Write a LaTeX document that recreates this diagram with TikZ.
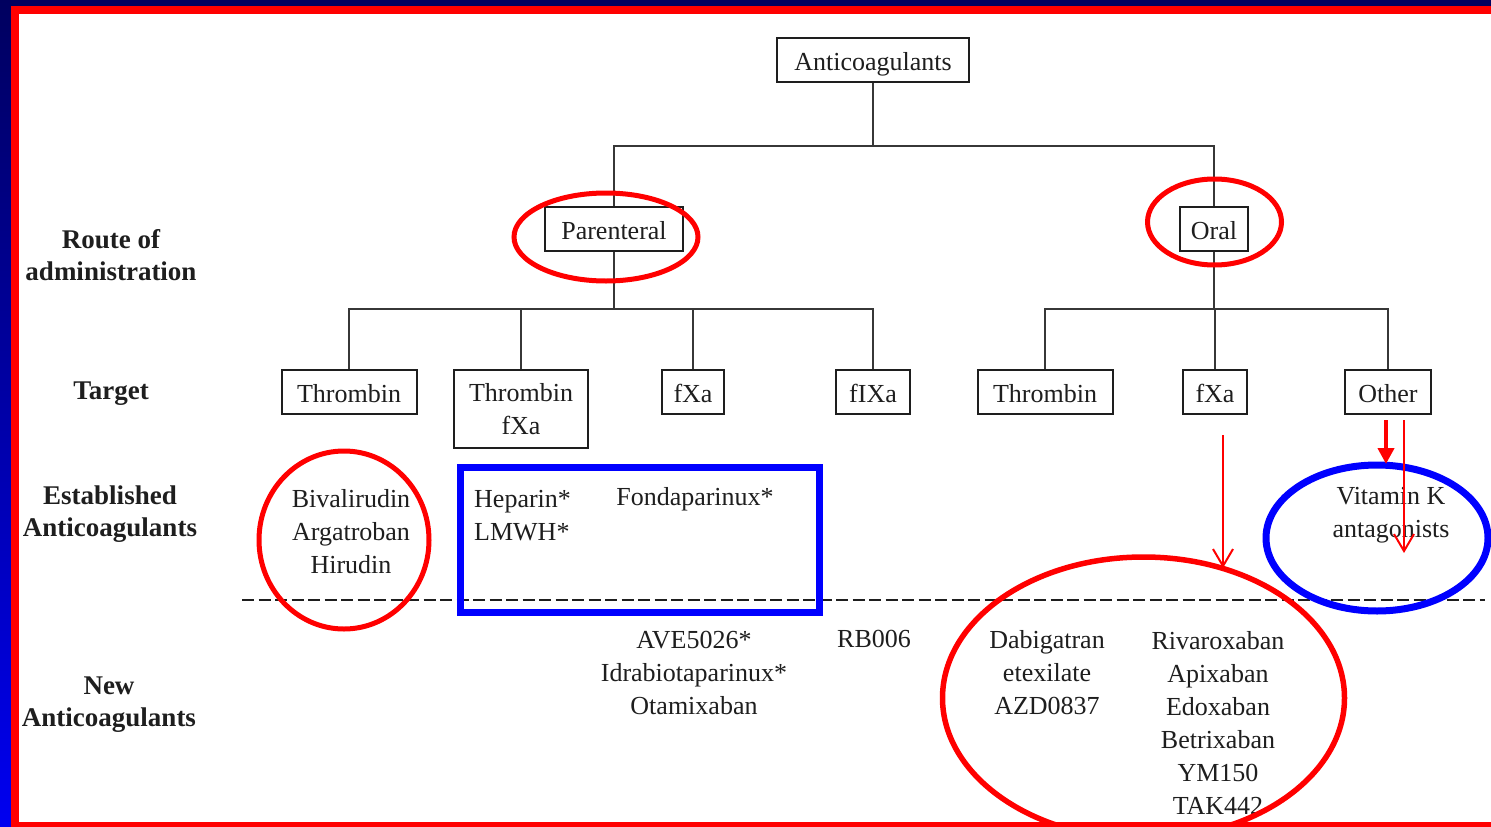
\documentclass[tikz,border=0pt]{standalone}
\usepackage{fontspec}
\setmainfont{Liberation Serif}
\usetikzlibrary{arrows.meta}
\definecolor{navyA}{RGB}{0,0,95}
\definecolor{navyB}{RGB}{0,0,240}
\definecolor{ink}{RGB}{30,30,30}
\definecolor{treeline}{RGB}{55,55,55}
\definecolor{markred}{RGB}{255,0,0}
\definecolor{markblue}{RGB}{0,0,255}
\begin{document}
\begin{tikzpicture}[x=1pt,y=-1pt,
  font=\fontsize{26}{33}\selectfont,
  box/.style={draw=ink, line width=2pt, minimum height=44pt, inner sep=0pt, text=ink, align=center},
  onebox/.style={box, text height=22.5pt, text depth=1.5pt},
  lbl/.style={font=\fontsize{27}{32}\selectfont\bfseries, text=ink, align=center, inner sep=0pt},
  drug/.style={text=ink, align=center, inner sep=0pt},
  tree/.style={draw=treeline, line width=1.6pt},
  redring/.style={draw=markred, line width=5pt},
  bluering/.style={draw=markblue, line width=7pt}]
\useasboundingbox (0,0) rectangle (1491,827);
% frame
\fill[white] (0,0) rectangle (1491,827);
\fill[navyA] (0,0) rectangle (1491,6);
\shade[top color=navyA, bottom color=navyB] (0,0) rectangle (11,827);
\fill[markred] (11,6) rectangle (1491,14);
\fill[markred] (11,6) rectangle (19,827);
\fill[markred] (11,822) rectangle (1491,827);

% row labels
\node[lbl] (lroute) at (111,255) {Route of\\administration};
\node[lbl] (ltarget) at (111,394) {Target};
\node[lbl] (lest) at (110,514) {Established\\Anticoagulants};
\node[lbl] (lnew) at (109,705) {New\\Anticoagulants};

% tree
\node[onebox, minimum width=192pt] (anti) at (873,60) {Anticoagulants};
\node[onebox, minimum width=138pt] (par) at (614,229) {Parenteral};
\node[onebox, minimum width=68pt] (oral) at (1214,229) {Oral};

\node[onebox, minimum width=135pt] (t1) at (349,392) {Thrombin};
\node[box, minimum width=134pt, minimum height=78pt] (t2) at (521,409) {Thrombin\\fXa};
\node[onebox, minimum width=62pt] (t3) at (693,392) {fXa};
\node[onebox, minimum width=74pt] (t4) at (873,392) {fIXa};
\node[onebox, minimum width=135pt] (o1) at (1045,392) {Thrombin};
\node[onebox, minimum width=64pt] (o2) at (1215,392) {fXa};
\node[onebox, minimum width=86pt] (o3) at (1388,392) {Other};

\coordinate (j1) at (873,146);
\coordinate (j2) at (614,309);
\coordinate (j3) at (1214,309);

\draw[tree] (anti.south) -- (j1);
\draw[tree] (par.north) |- (j1) -| (oral.north);
\draw[tree] (par.south) -- (j2);
\draw[tree] (t1.north) |- (j2) -| (t4.north);
\draw[tree] (t2.north) -- (t2.north |- j2);
\draw[tree] (t3.north) -- (t3.north |- j2);
\draw[tree] (oral.south) -- (j3);
\draw[tree] (o1.north) |- (j3) -| (o3.north);
\draw[tree] (o2.north) -- (o2.north |- j3);

% separator
\coordinate (dl) at (242,600);
\coordinate (dr) at (1485,600);
\draw[draw=ink, line width=2pt, dash pattern=on 12pt off 4.5pt] (dl) -- (dr);

% drugs
\node[drug] (est1) at (351,532) {Bivalirudin\\Argatroban\\Hirudin};
\node[drug, align=left, anchor=west] (est2) at (474,515.5) {Heparin*\\LMWH*};
\node[drug] (est3) at (695,499) {Fondaparinux*};
\node[drug] (est4) at (1391,515.5) {Vitamin K\\antagonists};

\node[drug] (new1) at (694,672.5) {AVE5026*\\Idrabiotaparinux*\\Otamixaban};
\node[drug] (new2) at (874,639) {RB006};
\node[drug] (new3) at (1047,673) {Dabigatran\\etexilate\\AZD0837};
\node[drug] (new4) at (1218,722.5) {Rivaroxaban\\Apixaban\\Edoxaban\\Betrixaban\\YM150\\TAK442};

% annotations
\draw[redring] (606,237) ellipse [x radius=92, y radius=44];
\draw[redring] (1214.5,222) ellipse [x radius=67, y radius=43];
\draw[redring] (344,540) ellipse [x radius=85, y radius=89];
\draw[redring, line width=5.5pt] (1143.5,698) ellipse [x radius=201, y radius=141];
\draw[bluering] (460,467) rectangle (819,612);
\draw[bluering] (1377,538) ellipse [x radius=111, y radius=73];

\coordinate (a1s) at (1386,420);
\coordinate (a1e) at (1386,464);
\coordinate (a2s) at (1404,420);
\coordinate (a2e) at (1404,553);
\coordinate (a3s) at (1223,435);
\coordinate (a3e) at (1223,568);
\draw[markred, line width=4pt, -{Triangle[length=16pt,width=16pt]}] (a1s) -- (a1e);
\draw[markred, line width=2pt, -{Straight Barb[length=17pt,width=20pt]}] (a2s) -- (a2e);
\draw[markred, line width=2pt, -{Straight Barb[length=17pt,width=20pt]}] (a3s) -- (a3e);
\end{tikzpicture}
\end{document}
